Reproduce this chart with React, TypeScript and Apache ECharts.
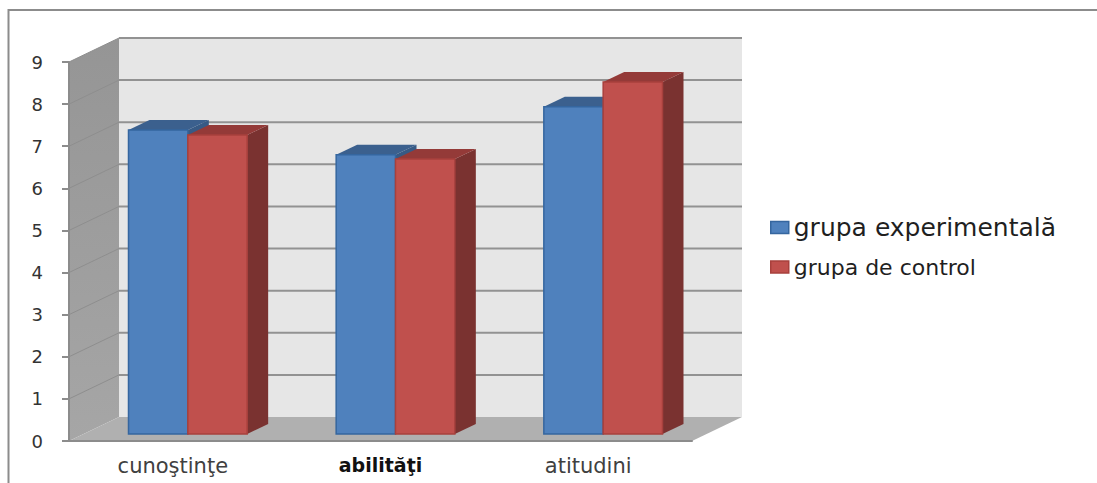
import React, { useEffect, useRef } from "react";
import * as echarts from "echarts";

const categories = ["cunoştinţe", "abilităţi", "atitudini"];
const seriesNames = ["grupa experimentală", "grupa de control"];
const experimentalValues = [7.22, 6.63, 7.77];
const controlValues = [7.1, 6.53, 8.36];
const yTicks = [0, 1, 2, 3, 4, 5, 6, 7, 8, 9];

const FONT = "'DejaVu Sans', sans-serif";

// Oblique projection of the 3D scene: wall depth, the gap before the bars, and bar depth.
const WALL_DX = 50;
const WALL_DY = -24;
const BAR_SHIFT_DX = 15;
const BAR_SHIFT_DY = -7;
const BAR_DX = 21;
const BAR_DY = -10;
const GAP_RATIO = 1.5;

const palettes = [
  { front: "#4f81bd", border: "#35669f", top: "#3b608e", side: "#375a85" },
  { front: "#c0504d", border: "#a8403d", top: "#943a38", side: "#7a3230" },
];

const poly = (points: number[][], style: any) => ({
  type: "polygon",
  shape: { points },
  style,
  silent: true,
});

const line = (a: number[], b: number[], stroke: string, lineWidth: number) => ({
  type: "line",
  shape: { x1: a[0], y1: a[1], x2: b[0], y2: b[1] },
  style: { stroke, lineWidth, fill: "none" },
  silent: true,
});

// Back wall, side wall and floor with their gridlines, all derived from the plot rectangle.
function renderScene(params: any, api: any) {
  const { x, width } = params.coordSys;
  const right = x + width;
  const yTop = api.coord([0, yTicks[yTicks.length - 1]])[1];
  const yBase = api.coord([0, 0])[1];
  const children: any[] = [
    poly(
      [
        [x + WALL_DX, yTop + WALL_DY],
        [right + WALL_DX, yTop + WALL_DY],
        [right + WALL_DX, yBase + WALL_DY],
        [x + WALL_DX, yBase + WALL_DY],
      ],
      { fill: "#e6e6e6" }
    ),
    poly(
      [
        [x, yTop],
        [x + WALL_DX, yTop + WALL_DY],
        [x + WALL_DX, yBase + WALL_DY],
        [x, yBase],
      ],
      {
        fill: new echarts.graphic.LinearGradient(0, 0, 0, 1, [
          { offset: 0, color: "#959595" },
          { offset: 1, color: "#a6a6a6" },
        ]),
      }
    ),
  ];
  yTicks.forEach((t) => {
    const y = api.coord([0, t])[1];
    if (t > 0) {
      children.push(line([x, y], [x + WALL_DX, y + WALL_DY], "#8e8e8e", 1));
      children.push(
        line([x + WALL_DX, y + WALL_DY], [right + WALL_DX, y + WALL_DY], "#929292", 2)
      );
    }
  });
  children.push(
    poly(
      [
        [x, yBase],
        [right, yBase],
        [right + WALL_DX, yBase + WALL_DY],
        [x + WALL_DX, yBase + WALL_DY],
      ],
      { fill: "#b0b0b0" }
    )
  );
  return { type: "group", children };
}

// One 3D column: side, top and front faces projected from the value on the axis.
const renderBar = (seriesIndex: number) => (_params: any, api: any) => {
  const c = palettes[seriesIndex];
  const idx = api.value(0);
  const top = api.coord([idx, api.value(1)]);
  const base = api.coord([idx, 0]);
  const barWidth = api.size([1, 0])[0] / (seriesNames.length + GAP_RATIO);
  const x0 = top[0] + BAR_SHIFT_DX + (seriesIndex - 1) * barWidth;
  const x1 = x0 + barWidth;
  const yT = top[1] + BAR_SHIFT_DY;
  const yB = base[1] + BAR_SHIFT_DY;
  return {
    type: "group",
    children: [
      poly(
        [
          [x1, yT],
          [x1 + BAR_DX, yT + BAR_DY],
          [x1 + BAR_DX, yB + BAR_DY],
          [x1, yB],
        ],
        { fill: c.side }
      ),
      poly(
        [
          [x0, yT],
          [x0 + BAR_DX, yT + BAR_DY],
          [x1 + BAR_DX, yT + BAR_DY],
          [x1, yT],
        ],
        { fill: c.top }
      ),
      {
        type: "rect",
        shape: { x: x0, y: yT, width: barWidth, height: yB - yT },
        style: { fill: c.front, stroke: c.border, lineWidth: 1.5 },
      },
    ],
  };
};

const barSeries = (seriesIndex: number, values: number[]) => ({
  type: "custom",
  name: seriesNames[seriesIndex],
  z: 3 + seriesIndex,
  renderItem: renderBar(seriesIndex),
  encode: { x: 0, y: 1 },
  itemStyle: { color: palettes[seriesIndex].front },
  data: values.map((v, i) => [i, v]),
});

const legendFor = (seriesIndex: number, top: number, fontSize: number) => ({
  left: 770,
  top,
  padding: 0,
  orient: "vertical",
  itemWidth: 18,
  itemHeight: 12,
  icon: "rect",
  selectedMode: false,
  itemStyle: { borderColor: palettes[seriesIndex].border, borderWidth: 1.5 },
  textStyle: { fontFamily: FONT, fontSize, color: "#1f1f1f" },
  data: [seriesNames[seriesIndex]],
});

export default function App() {
  const ref = useRef<HTMLDivElement>(null);

  useEffect(() => {
    const chart = echarts.init(ref.current, undefined, { renderer: "svg" });
    chart.setOption({
      animation: false,
      backgroundColor: "#ffffff",
      grid: { left: 69, top: 62, width: 623, height: 379 },
      legend: [legendFor(0, 215, 25), legendFor(1, 256, 22)],
      graphic: [
        // Chart frame: only its top and left edges are inside the page.
        {
          type: "polyline",
          silent: true,
          shape: { points: [[8.5, 483], [8.5, 10], [1097, 10]] },
          style: { stroke: "#8c8c8c", lineWidth: 2, fill: "none" },
        },
      ],
      xAxis: {
        type: "category",
        data: categories.map((name, i) =>
          i === 1
            ? { value: name, textStyle: { fontWeight: "bold", fontSize: 19, color: "#111111" } }
            : name
        ),
        z: 6,
        axisLine: { lineStyle: { color: "#8c8c8c", width: 2 } },
        axisTick: { length: 6, lineStyle: { color: "#8c8c8c", width: 2 } },
        splitLine: { show: false },
        axisLabel: { fontFamily: FONT, fontSize: 21, color: "#404040", margin: 14 },
      },
      yAxis: {
        type: "value",
        min: 0,
        max: yTicks[yTicks.length - 1],
        interval: 1,
        z: 6,
        axisLine: { show: true, lineStyle: { color: "#8c8c8c", width: 2 } },
        axisTick: { show: true, length: 7, lineStyle: { color: "#8c8c8c", width: 2 } },
        splitLine: { show: false },
        axisLabel: { fontFamily: FONT, fontSize: 18, color: "#333333", margin: 26 },
      },
      series: [
        {
          type: "custom",
          silent: true,
          z: 1,
          renderItem: renderScene,
          encode: { x: 0, y: 1 },
          data: [[0, 0]],
        },
        barSeries(0, experimentalValues),
        barSeries(1, controlValues),
      ],
    });
    return () => chart.dispose();
  }, []);

  return (
    <div
      ref={ref}
      style={{ position: "absolute", left: 0, top: 0, width: 1097, height: 483 }}
    />
  );
}
